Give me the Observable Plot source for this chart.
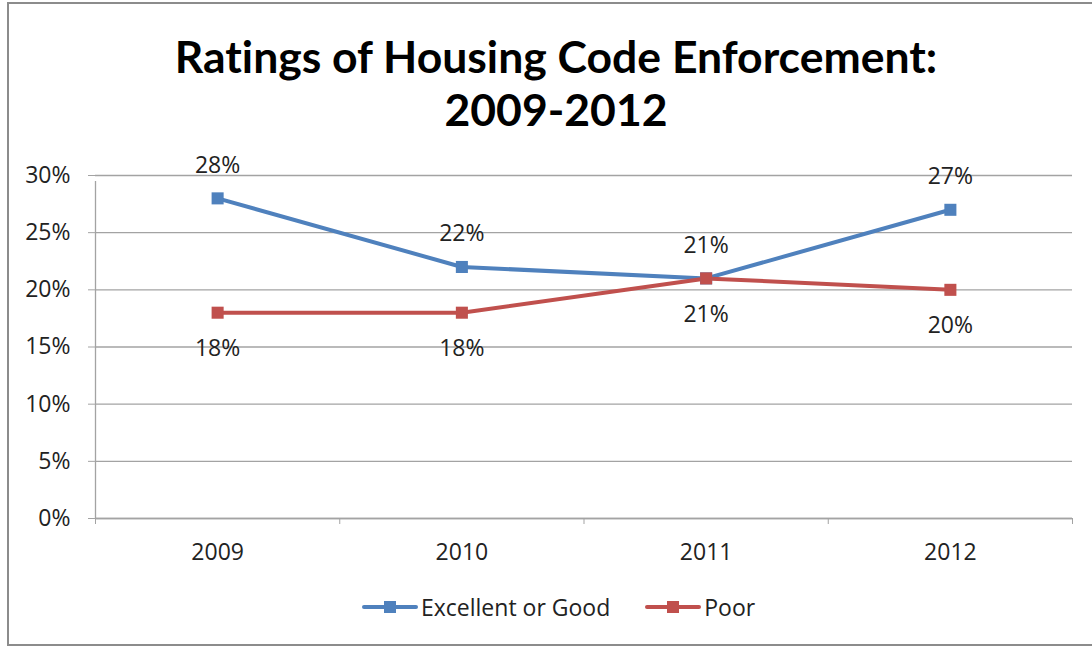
<!DOCTYPE html>
<html>
<head>
<meta charset="utf-8">
<script src="https://cdn.jsdelivr.net/npm/d3@7"></script>
<script src="https://cdn.jsdelivr.net/npm/@observablehq/plot@0.6"></script>
<style>
  html, body { margin: 0; padding: 0; background: #fff; }
  #fig { position: relative; width: 1092px; height: 649px; background: #fff; overflow: hidden; font-family: "Open Sans", sans-serif; }
  #frame { position: absolute; left: 7px; top: 2px; width: 1100px; height: 644px; border: 2px solid #8c8c8c; box-sizing: border-box; }
  #title { position: absolute; left: 556px; top: 29px; transform: translateX(-50%); white-space: nowrap; text-align: center;
           font-family: Lato, "Open Sans", sans-serif; font-weight: 700; font-size: 44.5px; line-height: 53px; color: #000;
           font-variant-ligatures: none; font-feature-settings: "liga" 0, "clig" 0; }
  #chart { position: absolute; left: 0; top: 140px; }
  #legend { position: absolute; left: 362px; top: 591px; display: flex; align-items: center; font-size: 23px; color: #222; white-space: nowrap; }
  .item { display: flex; align-items: center; margin-right: 35px; }
  .sw { position: relative; width: 56px; height: 14px; margin-right: 3px; }
  .sw .ln { position: absolute; left: 0; right: 0; top: 5px; height: 4px; border-radius: 2px; }
  .sw .mk { position: absolute; left: 22px; top: 1px; width: 12px; height: 12px; }
</style>
</head>
<body>
<div id="fig">
  <div id="frame"></div>
  <div id="title">Ratings of Housing Code Enforcement:<br>2009-2012</div>
  <div id="chart"></div>
  <div id="legend"></div>
</div>
<script>
// ---- data ----
const years = [2009, 2010, 2011, 2012];
const seriesNames = ["Excellent or Good", "Poor"];
const excellentOrGood = [28, 22, 21, 27];
const poor = [18, 18, 21, 20];
const seriesColors = ["#4f81bd", "#c0504d"];
const yTicks = [0, 5, 10, 15, 20, 25, 30];

// ---- build table ----
const rows = [];
[excellentOrGood, poor].forEach((vals, s) => {
  vals.forEach((v, i) => rows.push({series: seriesNames[s], year: years[i], value: v / 100, above: s === 0}));
});
const yTickVals = yTicks.map(d => d / 100);
const xLo = d3.min(years) - 0.5, xHi = d3.max(years) + 0.5;
const bounds = d3.range(years.length + 1).map(i => xLo + i);

const gridColor = "#a3a3a3";
const chart = Plot.plot({
  width: 1092,
  height: 440,
  marginLeft: 95,
  marginRight: 20,
  marginTop: 35,
  marginBottom: 62,
  style: {fontFamily: "Open Sans, sans-serif", fontSize: "23px", color: "#222", background: "transparent", overflow: "visible"},
  x: {type: "linear", domain: [xLo, xHi]},
  y: {domain: [0, d3.max(yTickVals)]},
  color: {domain: seriesNames, range: seriesColors},
  marks: [
    Plot.gridY(yTickVals, {stroke: gridColor, strokeOpacity: 1, strokeWidth: 1.3}),
    Plot.ruleX([xLo], {y1: 0, y2: d3.max(yTickVals), insetBottom: -6, stroke: gridColor, strokeWidth: 1.3}),
    Plot.ruleY([0], {stroke: gridColor, strokeWidth: 1.3}),
    Plot.axisY({ticks: yTickVals, tickFormat: d3.format(".0%"), tickSize: 7, tickPadding: 18, stroke: gridColor, fill: "#222", label: null}),
    Plot.axisX({ticks: bounds, tickSize: 6, tickFormat: () => "", stroke: gridColor, label: null}),
    Plot.axisX({ticks: years, tickSize: 0, tickPadding: 25, tickFormat: d => String(d), fill: "#222", label: null}),
    Plot.line(rows, {x: "year", y: "value", z: "series", stroke: "series", strokeWidth: 4}),
    Plot.dot(rows, {x: "year", y: "value", fill: "series", symbol: "square", r: 6.8}),
    Plot.text(rows.filter(d => d.above), {x: "year", y: "value", text: d => d3.format(".0%")(d.value), dy: -33, fill: "#222"}),
    Plot.text(rows.filter(d => !d.above), {x: "year", y: "value", text: d => d3.format(".0%")(d.value), dy: 36, fill: "#222"})
  ]
});
document.getElementById("chart").appendChild(chart);

// ---- legend ----
const legend = document.getElementById("legend");
seriesNames.forEach((name, i) => {
  const item = document.createElement("div");
  item.className = "item";
  const sw = document.createElement("div");
  sw.className = "sw";
  const ln = document.createElement("div"); ln.className = "ln"; ln.style.background = seriesColors[i];
  const mk = document.createElement("div"); mk.className = "mk"; mk.style.background = seriesColors[i];
  sw.appendChild(ln); sw.appendChild(mk);
  const label = document.createElement("span");
  label.textContent = name;
  item.appendChild(sw); item.appendChild(label);
  legend.appendChild(item);
});
</script>
</body>
</html>
